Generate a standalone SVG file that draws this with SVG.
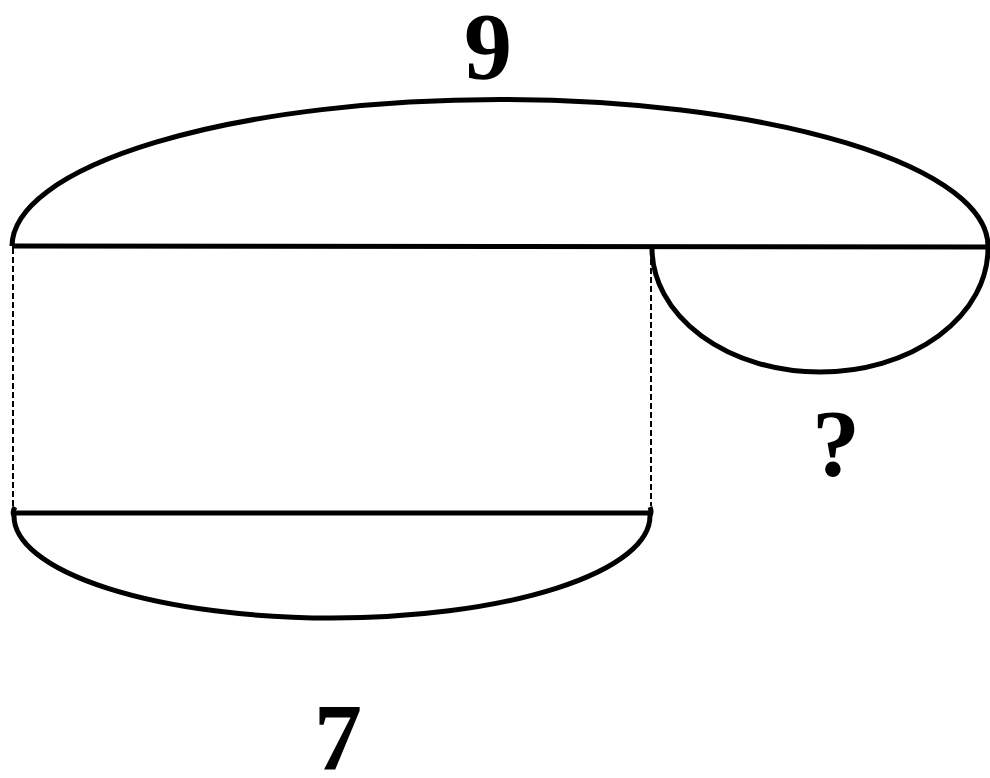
<svg xmlns="http://www.w3.org/2000/svg" width="990" height="778" viewBox="0 0 990 778">
<style>
.s{fill:none;stroke:#000;stroke-width:5}
.d{fill:none;stroke:#000;stroke-width:2;stroke-dasharray:6,3}
.t{font-family:"Liberation Serif","Times New Roman",serif;font-weight:bold;font-size:96px;text-anchor:middle;fill:#000}
</style>
<rect width="990" height="778" fill="#fff"/>
<g id="connectors">
<line class="d" x1="13" y1="248" x2="13" y2="506"/>
<line class="d" x1="651" y1="250" x2="651" y2="506"/>
</g>
<g id="top">
<line class="s" x1="12" y1="246" x2="990" y2="247"/>
<path class="s" d="M12,246 A488,147 0 0 1 988,247"/>
</g>
<g id="small-arc">
<path class="s" d="M652,248 A168,124 0 0 0 988,248"/>
</g>
<g id="bottom">
<line class="s" x1="14" y1="513" x2="650" y2="513"/>
<path class="s" d="M15,507 Q12,512 14,516 A318,102 0 0 0 650,516 Q652,512 650,507"/>
</g>
<g id="labels">
<text class="t" x="488" y="79">9</text>
<text class="t" x="836" y="476">?</text>
<text class="t" x="338" y="770">7</text>
</g>
</svg>
